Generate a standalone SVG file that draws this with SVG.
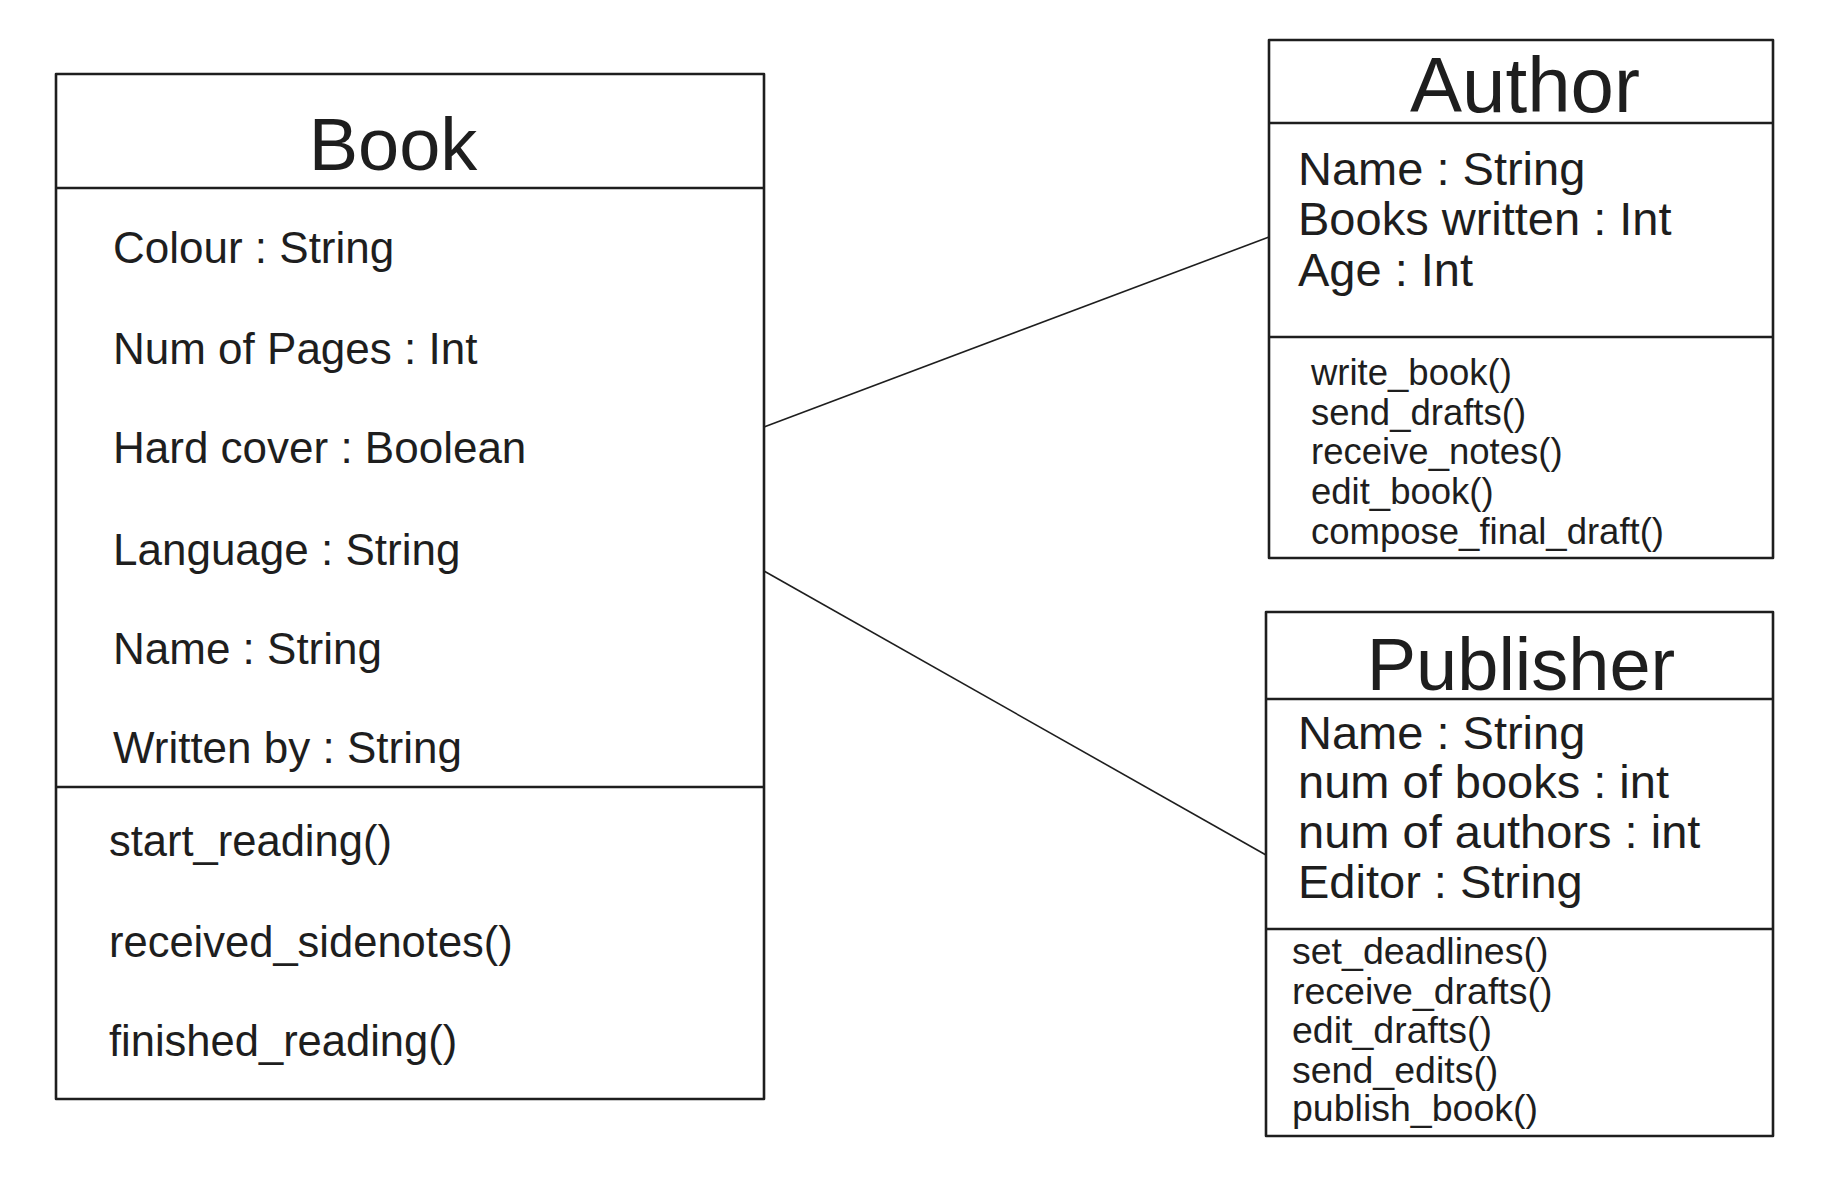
<svg xmlns="http://www.w3.org/2000/svg" width="1830" height="1186" viewBox="0 0 1830 1186">
<style>
.box{fill:none;stroke:#1e1e1e;stroke-width:2.6;stroke-linejoin:round}
.sep{stroke:#1e1e1e;stroke-width:2.4}
.conn{stroke:#1e1e1e;stroke-width:1.6;fill:none}
text{font-family:"Liberation Sans",Arial,sans-serif;fill:#1e1e1e}
.title{font-size:74px;text-anchor:middle}
.a1{font-size:44px}
.m1{font-size:43.5px}
.a2{font-size:47px}
.m2{font-size:36.5px}
.m3{font-size:37.5px}
</style>
<rect width="1830" height="1186" fill="#ffffff"/>
<g id="connectors">
<line class="conn" x1="764" y1="427" x2="1269" y2="237"/>
<line class="conn" x1="764" y1="571" x2="1266" y2="855"/>
</g>
<g id="book">
<rect class="box" x="56" y="74" width="708" height="1025"/>
<line class="sep" x1="56" y1="188" x2="764" y2="188"/>
<line class="sep" x1="56" y1="787" x2="764" y2="787"/>
<text class="title" x="393" y="170">Book</text>
<text class="a1" x="113" y="263">Colour : String</text>
<text class="a1" x="113" y="364">Num of Pages : Int</text>
<text class="a1" x="113" y="463">Hard cover : Boolean</text>
<text class="a1" x="113" y="565">Language : String</text>
<text class="a1" x="113" y="664">Name : String</text>
<text class="a1" x="113" y="763">Written by : String</text>
<text class="m1" x="109" y="856">start_reading()</text>
<text class="m1" x="109" y="957">received_sidenotes()</text>
<text class="m1" x="109" y="1056">finished_reading()</text>
</g>
<g id="author">
<rect class="box" x="1269" y="40" width="504" height="518"/>
<line class="sep" x1="1269" y1="123" x2="1773" y2="123"/>
<line class="sep" x1="1269" y1="337" x2="1773" y2="337"/>
<text class="title" x="1525" y="112" style="font-size:78px">Author</text>
<text class="a2" x="1298" y="185">Name : String</text>
<text class="a2" x="1298" y="235">Books written : Int</text>
<text class="a2" x="1298" y="286">Age : Int</text>
<text class="m2" x="1311" y="385">write_book()</text>
<text class="m2" x="1311" y="425">send_drafts()</text>
<text class="m2" x="1311" y="464">receive_notes()</text>
<text class="m2" x="1311" y="504">edit_book()</text>
<text class="m2" x="1311" y="544">compose_final_draft()</text>
</g>
<g id="publisher">
<rect class="box" x="1266" y="612" width="507" height="524"/>
<line class="sep" x1="1266" y1="699" x2="1773" y2="699"/>
<line class="sep" x1="1266" y1="929" x2="1773" y2="929"/>
<text class="title" x="1521" y="690">Publisher</text>
<text class="a2" x="1298" y="749">Name : String</text>
<text class="a2" x="1298" y="798">num of books : int</text>
<text class="a2" x="1298" y="848">num of authors : int</text>
<text class="a2" x="1298" y="898">Editor : String</text>
<text class="m3" x="1292" y="964">set_deadlines()</text>
<text class="m3" x="1292" y="1004">receive_drafts()</text>
<text class="m3" x="1292" y="1043">edit_drafts()</text>
<text class="m3" x="1292" y="1083">send_edits()</text>
<text class="m3" x="1292" y="1121">publish_book()</text>
</g>
</svg>
